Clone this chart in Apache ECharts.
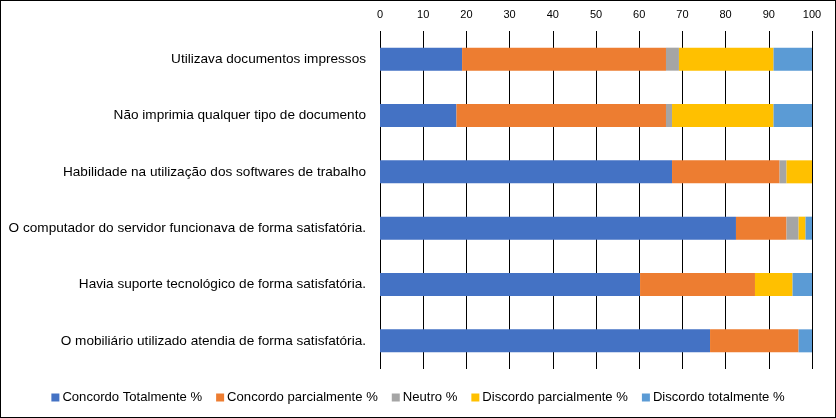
<!DOCTYPE html>
<html>
<head>
<meta charset="utf-8">
<script src="https://cdn.jsdelivr.net/npm/echarts@6/dist/echarts.min.js"></script>
<style>
html,body{margin:0;padding:0;background:#fff;}
#c{width:836px;height:418px;box-sizing:border-box;border:1px solid #000;}
</style>
</head>
<body>
<div id="c"></div>
<script>
const categories = [
  "Utilizava documentos impressos",
  "Não imprimia qualquer tipo de documento",
  "Habilidade na utilização dos softwares de trabalho",
  "O computador do servidor funcionava de forma satisfatória.",
  "Havia suporte tecnológico de forma satisfatória.",
  "O mobiliário utilizado atendia de forma satisfatória."
];
const seriesNames = ["Concordo Totalmente %", "Concordo parcialmente %", "Neutro %", "Discordo parcialmente %", "Discordo totalmente %"];
const concordoTotalmente   = [19.0, 17.7, 67.6, 82.4, 60.2, 76.4];
const concordoParcialmente = [47.2, 48.5, 24.9, 11.7, 26.6, 20.5];
const neutro               = [3.0, 1.4, 1.6, 2.8, 0, 0];
const discordoParcialmente = [21.9, 23.5, 5.9, 1.6, 8.7, 0];
const discordoTotalmente   = [8.9, 8.9, 0, 1.5, 4.5, 3.1];
const colors = ["#4472C4", "#ED7D31", "#A5A5A5", "#FFC000", "#5B9BD5"];
const seriesData = [concordoTotalmente, concordoParcialmente, neutro, discordoParcialmente, discordoTotalmente];

const chart = echarts.init(document.getElementById('c'));
const font = "Liberation Sans";
chart.setOption({
  animation: false,
  color: colors,
  textStyle: {fontFamily: font},
  grid: {left: 379, right: 23, top: 30, bottom: 48, containLabel: false},
  xAxis: {
    type: 'value', position: 'top', min: 0, max: 100, interval: 10,
    axisLine: {show: false}, axisTick: {show: false},
    axisLabel: {color: '#000', fontSize: 11, fontFamily: font, margin: 11},
    splitLine: {show: true, lineStyle: {color: '#000', width: 1}}
  },
  yAxis: {
    type: 'category', inverse: true, data: categories,
    axisLine: {show: false}, axisTick: {show: false},
    axisLabel: {color: '#000', fontSize: 13.6, fontFamily: font, margin: 14}
  },
  legend: {
    bottom: 8, left: 'center', itemWidth: 8, itemHeight: 8, itemGap: 14,
    icon: 'rect',
    textStyle: {color: '#000', fontSize: 13.1, fontFamily: font, padding: [0,0,0,-2]},
    data: seriesNames
  },
  series: seriesNames.map((n, i) => ({
    name: n, type: 'bar', stack: 'total', data: seriesData[i],
    barWidth: 23, itemStyle: {color: colors[i]}
  }))
});
</script>
</body>
</html>
